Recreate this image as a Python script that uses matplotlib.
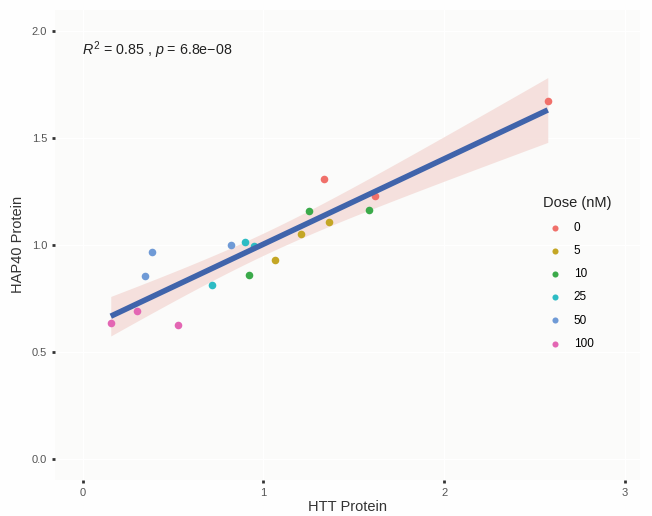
# -*- coding: utf-8 -*-

import numpy as np
import matplotlib
matplotlib.use("Agg")
import matplotlib.pyplot as plt

plt.rcParams["font.family"] = ["Liberation Sans", "DejaVu Sans"]
plt.rcParams["mathtext.fontset"] = "custom"
plt.rcParams["mathtext.it"] = "Liberation Sans:italic"
plt.rcParams["mathtext.rm"] = "Liberation Sans"

# HTT vs HAP40 protein, three replicates per dose
doses = ["0", "5", "10", "25", "50", "100"]
dose_colors = ["#F0706A", "#C4A624", "#3BAA4A", "#2DBCC4", "#6F9AD6", "#E366B3"]

htt = {
    "0":   [1.333, 1.620, 2.574],
    "5":   [1.064, 1.208, 1.365],
    "10":  [0.920, 1.252, 1.583],
    "25":  [0.716, 0.900, 0.950],
    "50":  [0.343, 0.382, 0.820],
    "100": [0.155, 0.300, 0.525],
}
hap40 = {
    "0":   [1.310, 1.229, 1.674],
    "5":   [0.929, 1.050, 1.107],
    "10":  [0.858, 1.157, 1.166],
    "25":  [0.812, 1.013, 0.995],
    "50":  [0.857, 0.966, 0.998],
    "100": [0.637, 0.693, 0.628],
}

x_all = np.concatenate([htt[d] for d in doses])
y_all = np.concatenate([hap40[d] for d in doses])

# linear fit with 95% confidence band (t(0.975, n-2) for n=18)
n = len(x_all)
slope, intercept = np.polyfit(x_all, y_all, 1)
resid = y_all - (slope * x_all + intercept)
s = np.sqrt(np.sum(resid ** 2) / (n - 2))
xs = np.linspace(x_all.min(), x_all.max(), 100)
ys = slope * xs + intercept
se = s * np.sqrt(1 / n + (xs - x_all.mean()) ** 2 / np.sum((x_all - x_all.mean()) ** 2))
t_val = 2.12

fig = plt.figure(figsize=(6.52, 5.16), dpi=100, facecolor="#fefefe")
ax = fig.add_axes([0.084, 0.070, 0.898, 0.911])
ax.set_facecolor("#fbfbfa")

ax.fill_between(xs, ys - t_val * se, ys + t_val * se, color="#f4dcd8", alpha=0.85,
                linewidth=0, zorder=2)
ax.plot(xs, ys, color="#4064ab", linewidth=4, zorder=4, solid_capstyle="butt")

for d, c in zip(doses, dose_colors):
    ax.scatter(htt[d], hap40[d], s=30, color=c, label=d, zorder=3, linewidths=0)

ax.set_xlim(-0.155, 3.086)
ax.set_ylim(-0.098, 2.10)
ax.set_xticks([0, 1, 2, 3])
ax.set_yticks([0.0, 0.5, 1.0, 1.5, 2.0])
ax.set_yticklabels(["0.0", "0.5", "1.0", "1.5", "2.0"])
ax.grid(True, color="white", linewidth=1.0)
ax.set_axisbelow(True)
for sp in ax.spines.values():
    sp.set_visible(False)
ax.tick_params(axis="both", length=2.5, width=2, color="#333333",
               labelcolor="#555555", labelsize=8, pad=3)

ax.set_xlabel("HTT Protein", fontsize=10.5, color="#333333", labelpad=2)
ax.set_ylabel("HAP40 Protein", fontsize=10.5, color="#333333", labelpad=5)

ax.text(-0.005, 1.91, "$R^2$ = 0.85 , $p$ = 6.8e\u221208", fontsize=10.3,
        color="#222222", va="center", ha="left")

leg = ax.legend(title="Dose (nM)", loc="upper left", bbox_to_anchor=(0.826, 0.613),
                frameon=False, fontsize=8.5, title_fontsize=10.5, markerscale=0.8,
                handletextpad=0.6, labelspacing=0.95, borderaxespad=0)
leg._legend_box.align = "left"
leg.get_title().set_color("#222222")

fig.savefig("out.png", dpi=100, facecolor=fig.get_facecolor())
